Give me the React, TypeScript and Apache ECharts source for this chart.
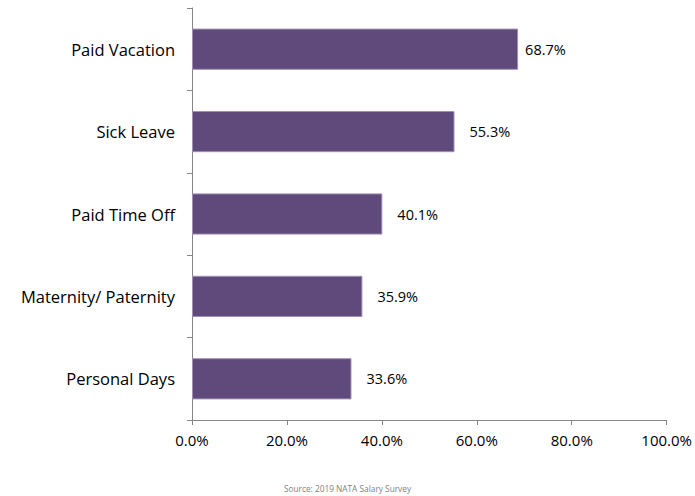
import React, { useEffect, useRef } from "react";
import * as echarts from "echarts";

const categories = ["Personal Days", "Maternity/ Paternity", "Paid Time Off", "Sick Leave", "Paid Vacation"];
const values = [33.6, 35.9, 40.1, 55.3, 68.7];
const labelGaps = [15, 15, 15, 15, 7];
const sourceText = "Source: 2019 NATA Salary Survey";

export default function App() {
  const ref = useRef<HTMLDivElement>(null);
  useEffect(() => {
    document.body.style.margin = "0";
    if (!ref.current) return;
    const chart = echarts.init(ref.current, undefined, { renderer: "svg" });
    const font = "'Open Sans', sans-serif";
    chart.setOption({
      animation: false,
      grid: { left: 192, right: 25, top: 8, bottom: 76, containLabel: false },
      xAxis: {
        type: "value",
        min: 0,
        max: 100,
        interval: 20,
        axisLine: { show: true, lineStyle: { color: "#868686", width: 1 } },
        axisTick: { show: true, length: 5, lineStyle: { color: "#868686" } },
        splitLine: { show: false },
        axisLabel: {
          formatter: (v: number) => v.toFixed(1) + "%",
          color: "#000",
          fontSize: 15,
          fontFamily: font,
          margin: 12,
        },
      },
      yAxis: {
        type: "category",
        data: categories,
        axisLine: { show: true, lineStyle: { color: "#868686", width: 1 } },
        axisTick: { show: true, length: 5, alignWithLabel: false, lineStyle: { color: "#868686" } },
        axisLabel: { color: "#000", fontSize: 16.5, fontFamily: font, margin: 17 },
      },
      series: [
        {
          type: "bar",
          data: values.map((v, i) => ({
            value: v,
            label: { distance: labelGaps[i] },
          })),
          barWidth: "50%",
          itemStyle: { color: "#604a7b", borderColor: "#9f90b3", borderWidth: 1 },
          label: {
            show: true,
            position: "right",
            formatter: (p: any) => p.value.toFixed(1) + "%",
            color: "#000",
            fontSize: 14.5,
            fontFamily: font,
          },
        },
      ],
      graphic: [
        {
          type: "text",
          left: "center",
          top: 484,
          style: { text: sourceText, fill: "#7f7f7f", fontSize: 8.3, fontFamily: font },
        },
      ],
    });
    return () => chart.dispose();
  }, []);
  return <div ref={ref} style={{ width: 695, height: 496 }} />;
}
